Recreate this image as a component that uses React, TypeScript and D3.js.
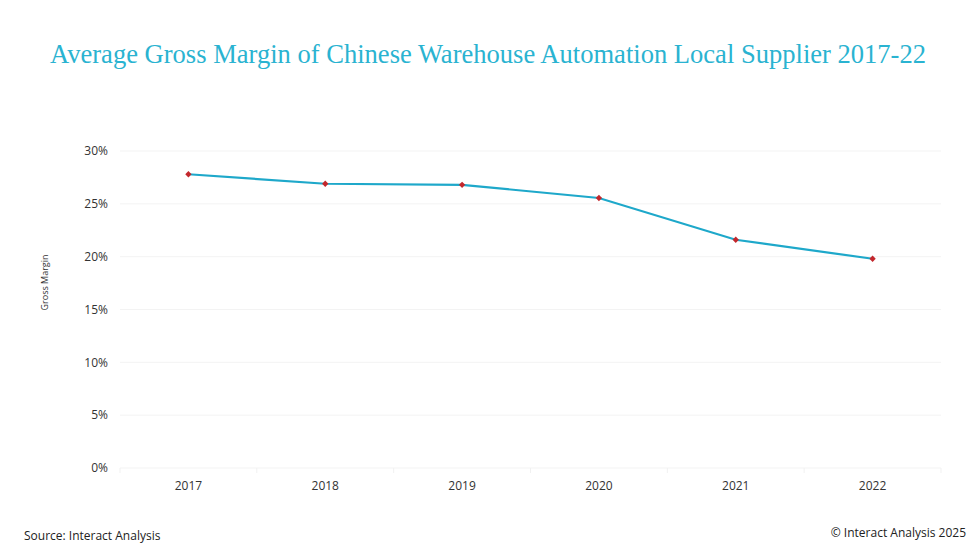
import React from "react";
import * as d3 from "d3";

const years = ["2017", "2018", "2019", "2020", "2021", "2022"];
const margins = [27.8, 26.9, 26.8, 25.55, 21.6, 19.8];
const yTicks = [0, 5, 10, 15, 20, 25, 30];

export default function App() {
  const W = 980, H = 560;
  const left = 120, right = 941, top = 151, bottom = 468;
  const x = d3.scaleBand<string>().domain(years).range([left, right]).padding(0);
  const y = d3.scaleLinear().domain([0, 30]).range([bottom, top]);
  const cx = (d: string) => (x(d) as number) + x.bandwidth() / 2;
  const line = d3.line<number>().x((_, i) => cx(years[i])).y((v) => y(v));
  const marker = d3.symbol().type(d3.symbolSquare).size(20)();
  const sans = "'Open Sans', 'Noto Sans', sans-serif";
  return (
    <svg width={W} height={H} style={{ position: "absolute", left: 0, top: 0, background: "#fff" }}>
      <text x={488} y={63} textAnchor="middle" fontFamily="'Liberation Serif', 'DejaVu Serif', serif"
        fontSize={28} fill="#2ab3d1" textLength={876} lengthAdjust="spacingAndGlyphs">
        Average Gross Margin of Chinese Warehouse Automation Local Supplier 2017-22
      </text>
      {yTicks.map((t) => (
        <g key={t}>
          <line x1={left} x2={right} y1={y(t)} y2={y(t)} stroke="#f3f3f3" strokeWidth={1} />
          <text x={108} y={y(t)} dy="0.35em" textAnchor="end" fontFamily={sans} fontSize={12} fill="#333">
            {t}%
          </text>
        </g>
      ))}
      {years.map((yr, i) => (
        <g key={yr}>
          <line x1={(x(yr) as number) + x.bandwidth()} x2={(x(yr) as number) + x.bandwidth()} y1={bottom} y2={bottom + 5} stroke="#f1f1f1" />
          {i === 0 && <line x1={left} x2={left} y1={bottom} y2={bottom + 5} stroke="#f1f1f1" />}
          <text x={cx(yr)} y={490} textAnchor="middle" fontFamily={sans} fontSize={12} fill="#333">
            {yr}
          </text>
        </g>
      ))}
      <text transform={`translate(48,${(top + bottom) / 2 - 27}) rotate(-90)`} textAnchor="middle"
        fontFamily={sans} fontSize={9} fill="#333">
        Gross Margin
      </text>
      <path d={line(margins) as string} fill="none" stroke="#1ea8ca" strokeWidth={2.2} />
      {margins.map((v, i) => (
        <path key={i} d={marker as string} transform={`translate(${cx(years[i])},${y(v)}) rotate(45)`} fill="#c3272c" />
      ))}
      <text x={24} y={540} fontFamily={sans} fontSize={12} fill="#222">Source: Interact Analysis</text>
      <text x={966} y={537} textAnchor="end" fontFamily={sans} fontSize={12} fill="#222">© Interact Analysis 2025</text>
    </svg>
  );
}
